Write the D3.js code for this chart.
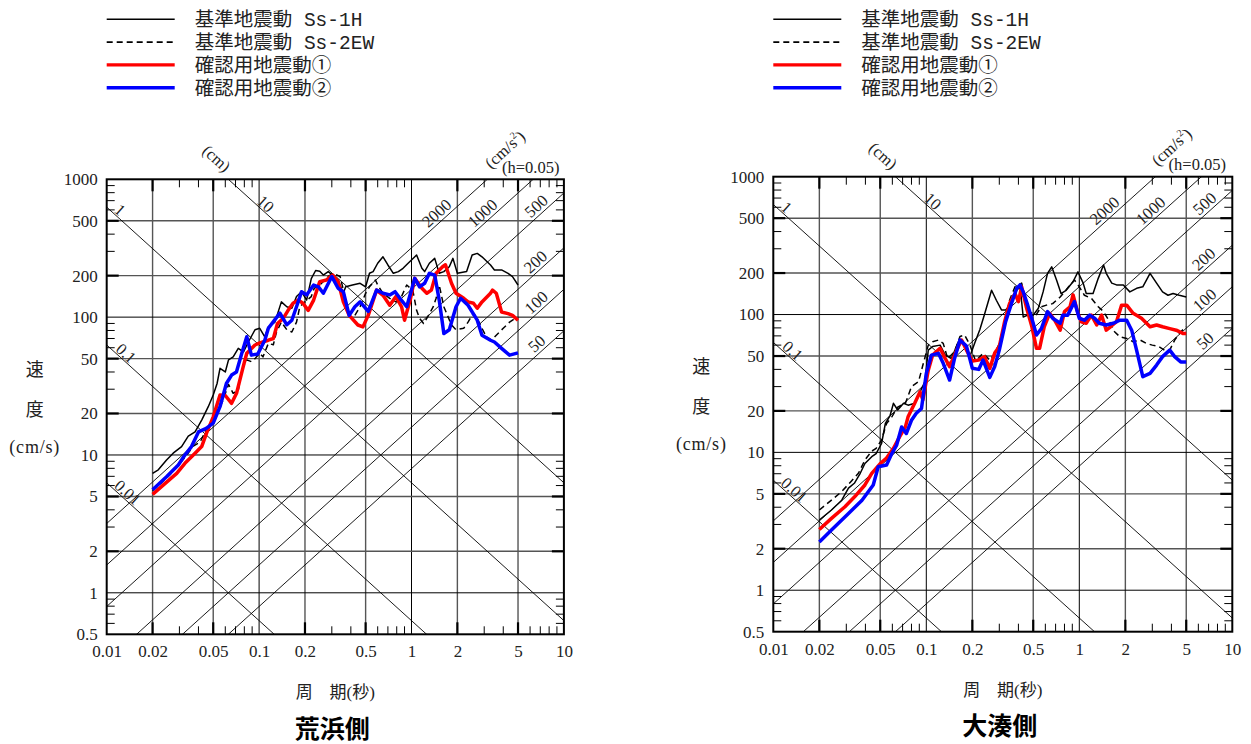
<!DOCTYPE html>
<html>
<head>
<meta charset="utf-8">
<script src="https://cdn.jsdelivr.net/npm/d3@7"></script>
<style>
  body { margin: 0; background: #fff; }
  svg { display: block; }
</style>
</head>
<body>
<script>
// ---------------- DATA ----------------
const seriesNames = ['基準地震動 Ss-1H', '基準地震動 Ss-2EW', '確認用地震動①', '確認用地震動②'];
const chartTitles = ['荒浜側', '大湊側'];

const xTickValues = [0.01, 0.02, 0.05, 0.1, 0.2, 0.5, 1, 2, 5, 10];
const xTickLabels = ['0.01', '0.02', '0.05', '0.1', '0.2', '0.5', '1', '2', '5', '10'];
const yTickValues = [0.5, 1, 2, 5, 10, 20, 50, 100, 200, 500, 1000];
const yTickLabels = ['0.5', '1', '2', '5', '10', '20', '50', '100', '200', '500', '1000'];

const dispLines = [0.01, 0.1, 1, 10];            // cm
const dispLabels = ['0.01', '0.1', '1', '10'];
const accLines = [50, 100, 200, 500, 1000, 2000]; // cm/s^2
const accLabels = ['50', '100', '200', '500', '1000', '2000'];

// 荒浜側
const araSs1H_T = [0.02,0.0218,0.0247,0.0273,0.031,0.0343,0.038,0.042,0.0464,0.05,0.053,0.0554,0.06,0.063,0.0676,0.073,0.079,0.085,0.094,0.101,0.109,0.115,0.127,0.14,0.152,0.164,0.176,0.19,0.205,0.22,0.235,0.25,0.264,0.284,0.304,0.33,0.357,0.37,0.41,0.46,0.5,0.53,0.56,0.6,0.65,0.7,0.76,0.82,0.88,0.95,1.0,1.08,1.17,1.22,1.31,1.42,1.52,1.63,1.77,1.87,2.0,2.3,2.5,2.7,2.9,3.3,3.5,3.9,4.3,4.6,5.0];
const araSs1H_V = [7.35,7.8,9.2,10.3,11.5,13.7,14.7,17.9,22.4,27.2,33,42.5,40,49,51.5,59.4,56,66,81,83,72,85,92,129,119,116,141,153,133,190,218,215,202,214,202,186,149,166,171,176,166,208,214,246,274,239,208,214,226,246,260,282,226,214,246,267,208,214,232,267,208,214,282,290,274,239,220,220,208,197,171];
const araSs2EW_T = [0.02,0.0223,0.026,0.03,0.034,0.037,0.041,0.045,0.05,0.054,0.058,0.063,0.0676,0.073,0.077,0.083,0.089,0.094,0.101,0.106,0.115,0.124,0.13,0.14,0.152,0.164,0.176,0.185,0.2,0.22,0.23,0.257,0.284,0.304,0.34,0.366,0.39,0.425,0.46,0.5,0.53,0.58,0.6,0.65,0.72,0.79,0.86,0.93,1.02,1.08,1.13,1.2,1.28,1.39,1.45,1.52,1.63,1.83,1.96,2.2,2.35,2.55,2.7,2.9,3.1,3.35,3.6,4.0,4.4,4.8,5.0];
const araSs2EW_V = [5.5,6.1,7.2,8.6,10.2,11.6,12.4,15.3,17.5,21,25,32.5,28,29.5,41,49,47.5,50,54.7,51.5,64.5,63,78,92,81,78,92,119,129,141,162,176,197,208,197,141,103,103,119,149,166,186,171,149,137,129,141,171,157,112,98,90,101,119,137,171,119,87.7,81,83,92,107,98,83,72,68,74,83,92,98,96];
const araChk1_T = [0.02,0.0241,0.0288,0.0326,0.038,0.042,0.0452,0.05,0.0554,0.06,0.066,0.0711,0.0786,0.083,0.094,0.101,0.115,0.124,0.132,0.144,0.155,0.167,0.181,0.194,0.21,0.228,0.25,0.277,0.304,0.33,0.357,0.39,0.445,0.48,0.52,0.59,0.65,0.72,0.79,0.86,0.9,0.98,1.05,1.17,1.26,1.35,1.45,1.6,1.67,1.83,1.96,2.2,2.35,2.55,2.7,2.9,3.3,3.4,3.6,3.9,4.3,4.6,5.0];
const araChk1_V = [5.18,6.2,7.35,8.7,10.3,11.5,14.4,18.9,27.2,27,23.7,28,43.6,54.7,62.8,65,68,70,90,98,112,126,133,126,112,133,181,186,202,181,129,103,87.7,85,103,157,144,122,141,119,95,133,191,162,149,157,208,232,240,176,149,137,129,126,116,129,149,157,149,109,106,103,95];
const araChk2_T = [0.02,0.0247,0.0295,0.0326,0.036,0.04,0.045,0.05,0.0554,0.061,0.066,0.071,0.077,0.083,0.089,0.098,0.109,0.115,0.127,0.137,0.152,0.164,0.176,0.19,0.205,0.228,0.245,0.264,0.3,0.33,0.357,0.39,0.425,0.46,0.52,0.59,0.65,0.72,0.78,0.84,0.93,1.05,1.13,1.22,1.31,1.42,1.52,1.63,1.77,1.96,2.1,2.35,2.7,2.9,3.3,3.5,3.9,4.4,5.0];
const araChk2_V = [5.6,6.95,8.45,10,11.5,14.7,15.6,17,22.4,33,38,40,54.7,72,53,54,68,83,96,107,88,95,119,153,145,171,166,149,197,162,153,103,119,129,110,157,149,145,153,137,119,191,166,176,208,202,133,76,81,119,137,122,95,74,68,66,59.4,53,55];

// 大湊側
const ominSs1H_T = [0.02,0.024,0.028,0.031,0.034,0.037,0.0397,0.044,0.047,0.051,0.054,0.058,0.061,0.065,0.071,0.076,0.084,0.091,0.098,0.103,0.11,0.123,0.133,0.146,0.162,0.172,0.183,0.193,0.207,0.224,0.24,0.267,0.287,0.31,0.33,0.36,0.39,0.41,0.43,0.46,0.5,0.54,0.58,0.62,0.66,0.71,0.76,0.82,0.91,0.98,1.06,1.11,1.23,1.33,1.44,1.5,1.63,1.75,1.94,2.14,2.37,2.6,2.9,3.2,3.5,3.8,4.1,4.5,5.0];
const ominSs1H_V = [3.23,3.82,4.5,5.5,6.0,7.05,8.3,9.3,9.8,11.6,16.2,18.5,22.7,20.3,22.7,22,22.7,27.5,32.6,55.2,58.6,60,50.8,48,63.5,65,55,50,62,78,100,150,127,108,108,120,150,159,96,99,99,111,146,199,222,178,142,150,173,204,169,142,142,183,229,199,169,164,164,146,155,159,199,169,146,138,142,138,134];
const ominSs2EW_T = [0.02,0.024,0.028,0.032,0.036,0.0397,0.044,0.047,0.051,0.055,0.0595,0.065,0.073,0.08,0.089,0.095,0.103,0.11,0.12,0.129,0.138,0.153,0.166,0.178,0.193,0.21,0.235,0.26,0.28,0.3,0.325,0.35,0.38,0.42,0.44,0.47,0.52,0.565,0.61,0.67,0.75,0.8,0.87,0.93,1.0,1.08,1.2,1.33,1.44,1.6,1.7,1.84,2.04,2.25,2.5,2.75,3.0,3.3,3.6,3.9,4.2,4.6,5.0];
const ominSs2EW_V = [3.82,4.5,5.2,6.1,7.05,8.8,10.2,10.7,12.3,16.2,18.1,21.3,22.7,30,32.6,43,60,63.5,65.3,61.7,48,53.8,69.3,71,60,46,52.3,46.7,52.3,61.7,88.7,127,159,169,134,105,99,114,117,120,134,146,164,178,159,138,131,114,105,86.5,75,69,67,63.5,65.3,61.7,60,58.6,55.2,55.2,65.3,75,81.5];
const ominChk1_T = [0.02,0.024,0.0294,0.034,0.0397,0.044,0.05,0.055,0.061,0.067,0.073,0.076,0.084,0.091,0.095,0.103,0.11,0.123,0.133,0.142,0.158,0.17,0.183,0.2,0.22,0.24,0.26,0.28,0.3,0.325,0.35,0.38,0.4,0.42,0.45,0.49,0.525,0.55,0.59,0.64,0.69,0.75,0.8,0.87,0.91,0.98,1.03,1.11,1.2,1.3,1.4,1.5,1.6,1.75,1.89,2.04,2.25,2.55,2.9,3.2,3.5,3.9,4.3,4.75,5.0];
const ominChk1_V = [2.76,3.32,4.03,4.76,5.8,7.05,8.3,9.1,10.7,13,15.3,18.1,22.7,27.5,24,39.5,50.8,56.9,48,41.8,55.2,65.3,55.2,46,46.7,49.5,40.7,52.5,58.6,88.7,120,142,124,159,114,81.5,56.9,56.9,81.5,102,91,77,105,114,139,102,88.7,86.5,99,84,99,77,81.5,88.7,117,117,102,94,81.5,84,81.5,79,77,73,73];
const ominChk2_T = [0.02,0.024,0.031,0.038,0.045,0.0485,0.055,0.0595,0.064,0.069,0.074,0.08,0.086,0.093,0.1,0.108,0.12,0.129,0.142,0.153,0.166,0.183,0.2,0.22,0.235,0.26,0.28,0.3,0.33,0.36,0.39,0.41,0.43,0.46,0.5,0.525,0.565,0.62,0.67,0.75,0.78,0.84,0.93,1.0,1.08,1.17,1.26,1.35,1.5,1.67,1.84,2.04,2.2,2.37,2.6,2.9,3.2,3.5,3.9,4.2,4.6,5.0];
const ominChk2_V = [2.24,2.73,3.6,4.5,5.8,7.86,8.1,9.8,11.3,15.3,13.7,17.1,19.2,20.8,37.4,50.8,52.3,44.3,33.5,48,65.3,59,40.7,40,46.7,35,42,55.2,88.7,120,155,164,146,117,86.3,71,79,105,94,86.5,99,99,124,94,91,99,94,86.5,84,86.5,91,91,77,55,35.4,37.4,43,49.5,55.2,49.5,45.3,45.3];

// ---------------- DRAWING ----------------
const W = 1251, H = 744;
const SERIF = "'Liberation Serif', 'Noto Sans CJK JP', serif";
const CJK = "'Noto Sans CJK JP', sans-serif";
const svg = d3.select('body').append('svg').attr('width', W).attr('height', H);
svg.append('rect').attr('width', W).attr('height', H).attr('fill', '#fff');

const styles = [
  { color: '#000', width: 1.5, dash: null },
  { color: '#000', width: 1.5, dash: '6,4' },
  { color: '#ff0000', width: 3.5, dash: null },
  { color: '#0000ff', width: 3.5, dash: null }
];

function mantissa(v) {
  const e = Math.floor(Math.log10(v) + 1e-9);
  return Math.round(v / Math.pow(10, e) * 1000) / 1000;
}

function drawChart(cfg) {
  const { id, x0, y0, w, h, series, title } = cfg;
  const x = d3.scaleLog().domain([0.01, 10]).range([x0, x0 + w]);
  const y = d3.scaleLog().domain([0.5, 1000]).range([y0 + h, y0]);
  const g = svg.append('g');

  const clipId = 'clip-' + id;
  svg.append('defs').append('clipPath').attr('id', clipId)
    .append('rect').attr('x', x0).attr('y', y0).attr('width', w).attr('height', h);

  // --- legend ---
  const lg = g.append('g');
  series.forEach((s, i) => {
    const ly = 19.3 + i * 22.8;
    const st = styles[i];
    lg.append('line').attr('x1', x0).attr('x2', x0 + 68).attr('y1', ly).attr('y2', ly)
      .attr('stroke', st.color).attr('stroke-width', st.width === 1.5 ? 1.6 : 3.4)
      .attr('stroke-dasharray', st.dash);
    lg.append('text').attr('x', x0 + 88).attr('y', ly).attr('dy', '0.36em')
      .attr('font-family', "'Liberation Mono', 'Noto Sans CJK JP', monospace")
      .attr('font-size', 19.5).attr('fill', '#222').text(seriesNames[i]);
  });

  // --- grid ---
  const grid = g.append('g');
  xTickValues.slice(1, -1).forEach(v => {
    const dec = mantissa(v) === 1;
    grid.append('line').attr('x1', x(v)).attr('x2', x(v)).attr('y1', y0).attr('y2', y0 + h)
      .attr('stroke', dec ? '#000' : '#555').attr('stroke-width', dec ? 1 : 1.4);
  });
  yTickValues.slice(1, -1).forEach(v => {
    const dec = mantissa(v) === 1;
    grid.append('line').attr('y1', y(v)).attr('y2', y(v)).attr('x1', x0).attr('x2', x0 + w)
      .attr('stroke', dec ? '#000' : '#555').attr('stroke-width', dec ? 1 : 1.4);
  });

  // --- tripartite diagonal lines ---
  const diag = g.append('g').attr('clip-path', `url(#${clipId})`);
  const lineGen = d3.line().x(d => x(d[0])).y(d => y(d[1]));
  const Tends = [0.001, 100];
  dispLines.forEach(D => {
    diag.append('path').attr('d', lineGen(Tends.map(T => [T, 2 * Math.PI * D / T])))
      .attr('fill', 'none').attr('stroke', '#000').attr('stroke-width', 0.9);
  });
  accLines.forEach(A => {
    diag.append('path').attr('d', lineGen(Tends.map(T => [T, A * T / (2 * Math.PI)])))
      .attr('fill', 'none').attr('stroke', '#000').attr('stroke-width', 0.9);
  });

  // angle of the diagonals in pixel space
  const ang = Math.atan2(y(1) - y(10), x(10) - x(1)) * 180 / Math.PI; // ~42
  const a = ang * Math.PI / 180;

  // displacement labels
  const dispAnchorT = [0.0128, 0.0125, 0.0114, 0.103];
  dispLines.forEach((D, i) => {
    const T = dispAnchorT[i];
    const px = x(T) + 7 * Math.sin(a), py = y(2 * Math.PI * D / T) - 7 * Math.cos(a);
    g.append('text').attr('transform', `translate(${px},${py}) rotate(${ang})`)
      .attr('text-anchor', 'middle').attr('dy', '0.35em')
      .attr('font-family', SERIF).attr('font-size', 16.5).attr('fill', '#222').text(dispLabels[i]);
  });
  // acceleration labels
  const accAnchorT = [7.25, 7.2, 7.1, 7.2, 3.2, 1.6];
  accLines.forEach((A, i) => {
    const T = accAnchorT[i];
    const px = x(T) - 9 * Math.sin(a), py = y(A * T / (2 * Math.PI)) - 9 * Math.cos(a);
    g.append('text').attr('transform', `translate(${px},${py}) rotate(${-ang})`)
      .attr('text-anchor', 'middle').attr('dy', '0.35em')
      .attr('font-family', SERIF).attr('font-size', 16.5).attr('fill', '#222').text(accLabels[i]);
  });

  // unit labels
  g.append('text').attr('transform', `translate(${x0 + 110},${y0 - 21}) rotate(${ang})`)
    .attr('text-anchor', 'middle').attr('dy', '0.35em')
    .attr('font-family', SERIF).attr('font-size', 16.5).attr('fill', '#222').text('(cm)');
  const acc = g.append('text').attr('transform', `translate(${x0 + 398},${y0 - 30}) rotate(${-ang})`)
    .attr('text-anchor', 'middle').attr('dy', '0.35em')
    .attr('font-family', SERIF).attr('font-size', 16.5).attr('fill', '#222');
  acc.append('tspan').text('(cm/s');
  acc.append('tspan').attr('font-size', 10).attr('dy', '-0.7em').text('2');
  acc.append('tspan').attr('dy', '0.45em').text(')');
  g.append('text').attr('x', x0 + 424).attr('y', y0 - 12).attr('text-anchor', 'middle').attr('dy', '0.35em')
    .attr('font-family', SERIF).attr('font-size', 16.5).attr('fill', '#222').text('(h=0.05)');

  // --- tick marks (inward, all four sides) ---
  const ticks = g.append('g').attr('stroke', '#000');
  const xMinor = [], yMinor = [];
  [0.01, 0.1, 1].forEach(d => [3, 4, 6, 7, 8, 9].forEach(m => xMinor.push(m * d)));
  [0.1, 1, 10, 100].forEach(d => [3, 4, 6, 7, 8, 9].forEach(m => { const v = m * d; if (v > 0.5 && v < 1000) yMinor.push(v); }));
  xMinor.forEach(v => {
    ticks.append('line').attr('x1', x(v)).attr('x2', x(v)).attr('y1', y0 + h).attr('y2', y0 + h - 8).attr('stroke-width', 1);
    ticks.append('line').attr('x1', x(v)).attr('x2', x(v)).attr('y1', y0).attr('y2', y0 + 8).attr('stroke-width', 1);
  });
  yMinor.forEach(v => {
    ticks.append('line').attr('y1', y(v)).attr('y2', y(v)).attr('x1', x0).attr('x2', x0 + 8).attr('stroke-width', 1);
    ticks.append('line').attr('y1', y(v)).attr('y2', y(v)).attr('x1', x0 + w).attr('x2', x0 + w - 8).attr('stroke-width', 1);
  });
  xTickValues.filter(v => mantissa(v) !== 1).forEach(v => {
    ticks.append('line').attr('x1', x(v)).attr('x2', x(v)).attr('y1', y0 + h).attr('y2', y0 + h - 12).attr('stroke-width', 2.2);
    ticks.append('line').attr('x1', x(v)).attr('x2', x(v)).attr('y1', y0).attr('y2', y0 + 12).attr('stroke-width', 2.2);
  });
  yTickValues.slice(1, -1).filter(v => mantissa(v) !== 1).forEach(v => {
    ticks.append('line').attr('y1', y(v)).attr('y2', y(v)).attr('x1', x0).attr('x2', x0 + 12).attr('stroke-width', 2.2);
    ticks.append('line').attr('y1', y(v)).attr('y2', y(v)).attr('x1', x0 + w).attr('x2', x0 + w - 12).attr('stroke-width', 2.2);
  });

  // --- series curves ---
  const curves = g.append('g').attr('clip-path', `url(#${clipId})`);
  series.forEach((s, i) => {
    const st = styles[i];
    curves.append('path').datum(d3.zip(s.T, s.V))
      .attr('d', lineGen).attr('fill', 'none')
      .attr('stroke', st.color).attr('stroke-width', st.width)
      .attr('stroke-linejoin', 'round')
      .attr('stroke-dasharray', st.dash);
  });

  // --- frame ---
  g.append('rect').attr('x', x0).attr('y', y0).attr('width', w).attr('height', h)
    .attr('fill', 'none').attr('stroke', '#000').attr('stroke-width', 2);

  // --- axes (labels) ---
  const xAxis = d3.axisBottom(x).tickValues(xTickValues)
    .tickFormat((d, i) => xTickLabels[i]).tickSize(0).tickPadding(11);
  const xa = g.append('g').attr('transform', `translate(0,${y0 + h})`).call(xAxis);
  xa.select('.domain').remove();
  xa.selectAll('text').attr('font-family', SERIF).attr('font-size', 17).attr('fill', '#222');

  const yAxis = d3.axisLeft(y).tickValues(yTickValues)
    .tickFormat((d, i) => yTickLabels[i]).tickSize(0).tickPadding(9);
  const ya = g.append('g').attr('transform', `translate(${x0},0)`).call(yAxis);
  ya.select('.domain').remove();
  ya.selectAll('text').attr('font-family', SERIF).attr('font-size', 17).attr('fill', '#222');

  // --- axis titles ---
  const yt = x0 - 72;
  g.append('text').attr('x', yt).attr('y', y0 + 190).attr('dy', '0.35em').attr('text-anchor', 'middle')
    .attr('font-family', CJK).attr('font-size', 18).attr('fill', '#222').text('速');
  g.append('text').attr('x', yt).attr('y', y0 + 230).attr('dy', '0.35em').attr('text-anchor', 'middle')
    .attr('font-family', CJK).attr('font-size', 18).attr('fill', '#222').text('度');
  g.append('text').attr('x', yt).attr('y', y0 + 267).attr('dy', '0.35em').attr('text-anchor', 'middle')
    .attr('font-family', SERIF).attr('font-size', 18).attr('letter-spacing', 0.8).attr('fill', '#222').text('(cm/s)');

  g.append('text').attr('x', x0 + w / 2).attr('y', y0 + h + 58).attr('dy', '0.35em').attr('text-anchor', 'middle')
    .attr('font-family', "'Liberation Serif', 'Noto Sans CJK JP'").attr('font-size', 17).attr('fill', '#222').text('周　期(秒)');

  g.append('text').attr('x', x0 + w / 2 - 3).attr('y', y0 + h + 95).attr('dy', '0.35em').attr('text-anchor', 'middle')
    .attr('font-family', CJK).attr('font-weight', 'bold').attr('font-size', 25).attr('fill', '#000').text(title);
}

drawChart({
  id: 'ara', x0: 106.7, y0: 179.3, w: 457.2, h: 455,
  title: chartTitles[0],
  series: [
    { T: araSs1H_T, V: araSs1H_V },
    { T: araSs2EW_T, V: araSs2EW_V },
    { T: araChk1_T, V: araChk1_V },
    { T: araChk2_T, V: araChk2_V }
  ]
});
drawChart({
  id: 'omi', x0: 773.3, y0: 176.7, w: 459, h: 455,
  title: chartTitles[1],
  series: [
    { T: ominSs1H_T, V: ominSs1H_V },
    { T: ominSs2EW_T, V: ominSs2EW_V },
    { T: ominChk1_T, V: ominChk1_V },
    { T: ominChk2_T, V: ominChk2_V }
  ]
});
</script>
</body>
</html>
